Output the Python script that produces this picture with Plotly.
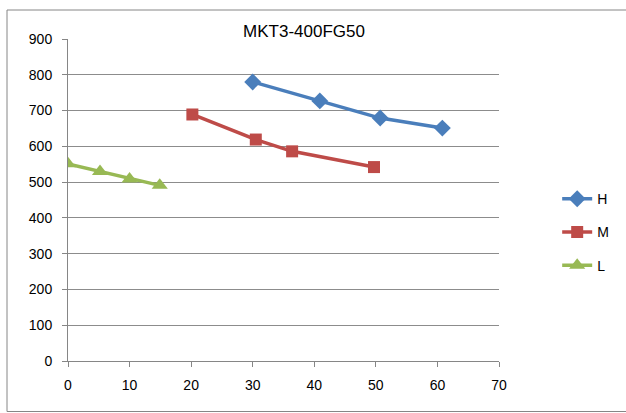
import plotly.graph_objects as go

h_x = [30, 40.9, 50.7, 60.8]
h_y = [780, 727, 679, 651]
m_x = [20.2, 30.5, 36.4, 49.7]
m_y = [689, 619, 586, 542]
l_x = [0, 5.2, 10, 14.9]
l_y = [551, 530, 509, 491]

title = "MKT3-400FG50"
x_ticks = [0, 10, 20, 30, 40, 50, 60, 70]
y_ticks = [0, 100, 200, 300, 400, 500, 600, 700, 800, 900]

FONT = "Liberation Sans, Arial, sans-serif"

fig = go.Figure()
fig.add_trace(go.Scatter(x=h_x, y=h_y, name="H", mode="lines+markers", legendgroup="H",
                         line=dict(color="#4a7ebb", width=3.5),
                         marker=dict(symbol="diamond", size=13, color="#4a7ebb")))
fig.add_trace(go.Scatter(x=m_x, y=m_y, name="M", mode="lines+markers", legendgroup="M",
                         line=dict(color="#be4b48", width=3.5),
                         marker=dict(symbol="square", size=12, color="#be4b48")))
fig.add_trace(go.Scatter(x=l_x, y=l_y, name="L", mode="lines+markers", legendgroup="L",
                         line=dict(color="#98b954", width=3.5),
                         marker=dict(symbol="triangle-up", size=14, color="#98b954")))

fig.update_layout(
    width=626, height=413,
    margin=dict(l=68, r=127, t=39, b=52),
    paper_bgcolor="white", plot_bgcolor="white",
    font=dict(family=FONT, size=14, color="black"),
    title=dict(text=title, x=304 / 626, xanchor="center", y=1 - 31 / 413, yanchor="middle",
               font=dict(size=17, family=FONT)),
    showlegend=True,
    legend=dict(x=1.135, y=0.40, xanchor="left", yanchor="middle",
                traceorder="grouped", tracegroupgap=12,
                font=dict(size=14), bgcolor="rgba(0,0,0,0)"),
    xaxis=dict(range=[0, 70], tickvals=x_ticks, showgrid=False, zeroline=False,
               showline=True, linecolor="#868686", linewidth=1,
               ticks="outside", ticklen=5, tickcolor="#868686", ticklabelstandoff=6),
    yaxis=dict(range=[0, 900], tickvals=y_ticks, showgrid=True, gridcolor="#8c8c8c", gridwidth=1,
               zeroline=False, showline=True, linecolor="#868686", linewidth=1,
               ticks="outside", ticklen=5, tickcolor="#868686", ticklabelstandoff=7),
    shapes=[dict(type="rect", xref="paper", yref="paper",
                 x0=(7 - 68) / 431, x1=(640 - 68) / 431,
                 y0=(361 - 411.5) / 322, y1=(361 - 10) / 322,
                 line=dict(color="#868686", width=1), layer="below")],
)

fig.write_html("out.html", config={"displayModeBar": False},
               post_script="document.body.style.margin='0px';")
